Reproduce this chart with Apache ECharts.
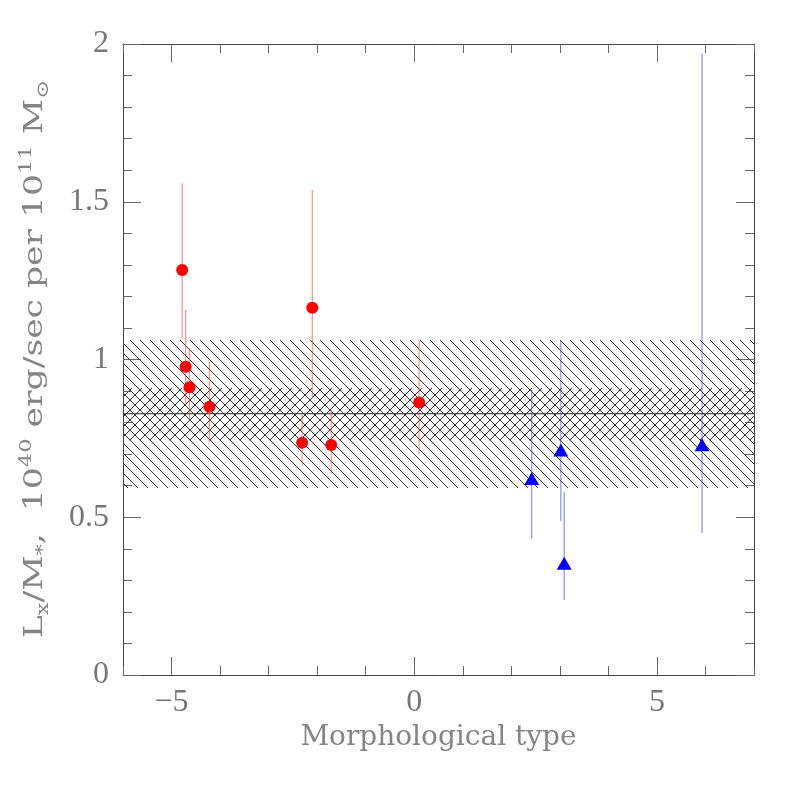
<!DOCTYPE html>
<html><head><meta charset="utf-8">
<script src="https://cdn.jsdelivr.net/npm/echarts@6/dist/echarts.min.js"></script>
<style>html,body{margin:0;padding:0;background:#fff}#c{width:797px;height:797px}</style>
</head><body><div id="c"></div>
<script>
// ---- data ----
const xTickCats = ['-6','-5','-4','-3','-2','-1','0','1','2','3','4','5','6','7'];
const xLabeled = ['-5','0','5'];
const yTickLabels = ['0','0.5','1','1.5','2'];
const xTitle = 'Morphological type';
const yTitle = '{n|L}{s|x}{n|/M}{s|*}{n|,  10}{p|40}{n| erg/sec per 10}{p|11}{n| M}{s|\u2299}';

const redType  = [-4.78, -4.71, -4.63, -4.22, -2.31, -2.10, -1.71, 0.10];
const redRatio = [1.284, 0.977, 0.912, 0.850, 0.736, 1.164, 0.729, 0.864];
const redLow   = [1.066, 0.855, 0.805, 0.738, 0.666, 0.881, 0.637, 0.700];
const redHigh  = [1.558, 1.157, 1.036, 0.995, 0.824, 1.537, 0.840, 1.065];

const blueType  = [2.42, 3.02, 3.09, 5.93];
const blueRatio = [0.623, 0.713, 0.354, 0.730];
const blueLow   = [0.433, 0.488, 0.238, 0.450];
const blueHigh  = [0.903, 1.062, 0.581, 1.971];

const bandOuter = [0.593, 1.062];
const bandInner = [0.744, 0.910];
const bandMean  = [0.828];

const X_MIN = -6, X_MAX = 7, Y_MIN = 0, Y_MAX = 2;

// ---- styles ----
function hatch(dir){
  const c = document.createElement('canvas'); c.width = 10; c.height = 10;
  const g = c.getContext('2d'); g.strokeStyle = '#333'; g.lineWidth = 1;
  g.beginPath();
  if (dir > 0) { g.moveTo(-1,-1); g.lineTo(11,11); }
  else { g.moveTo(-1,11); g.lineTo(11,-1); }
  g.stroke();
  return c;
}
const hatchBack = hatch(1), hatchFwd = hatch(-1);
const FONT = 'Liberation Serif';
const NFONT = 'DejaVu Serif';
const TXT = '#777';
const TTL = '#858585';

function bandSeries(band, img){
  return {
    type:'custom', xAxisIndex:0, yAxisIndex:0, silent:true, z:1, clip:true,
    data:[[band[0], band[1]]],
    renderItem:(p, api) => {
      const a = api.coord([X_MIN, api.value(1)]);
      const b = api.coord([X_MAX, api.value(0)]);
      return {type:'rect', shape:{x:a[0], y:a[1], width:b[0]-a[0], height:b[1]-a[1]},
              style:{fill:{image:img, repeat:'repeat'}, stroke:null}};
    }
  };
}
function errSeries(xs, lo, hi, color){
  return {
    type:'custom', xAxisIndex:0, yAxisIndex:0, silent:true, z:3,
    data: xs.map((x,i)=>[x, lo[i], hi[i]]),
    renderItem:(p, api) => {
      const a = api.coord([api.value(0), api.value(1)]);
      const b = api.coord([api.value(0), api.value(2)]);
      return {type:'line', shape:{x1:a[0], y1:a[1], x2:b[0], y2:b[1]},
              style:{stroke:color, lineWidth:1.3}};
    }
  };
}

const axisLineStyle = {show:true, onZero:false, lineStyle:{color:'#444', width:1}};
const hiddenLine = {show:false, onZero:false};
const shortTick = {show:true, inside:true, length:9, lineStyle:{color:'#666'}};
const longTickFn = (i, v) => xLabeled.includes(v);

const option = {
  animation:false,
  backgroundColor:'#fff',
  grid:{left:123, top:44, width:631, height:631, containLabel:false},
  graphic:[{
    type:'text', x:35, y:359, rotation:Math.PI/2, scaleX:1.33, silent:true,
    style:{text:yTitle, fontFamily:NFONT, fontSize:26, fill:TTL, align:'center', verticalAlign:'middle',
      rich:{
        n:{fontFamily:NFONT, fontSize:26, fill:TTL, lineHeight:34},
        s:{fontFamily:NFONT, fontSize:17, fill:TTL, lineHeight:15, verticalAlign:'bottom'},
        p:{fontFamily:NFONT, fontSize:17, fill:TTL, lineHeight:15, verticalAlign:'top'}
      }}
  }],
  xAxis:[
    {type:'value', min:X_MIN, max:X_MAX, interval:1, position:'bottom',
     axisLine:axisLineStyle, axisTick:shortTick, axisLabel:{show:false}, splitLine:{show:false}},
    {type:'value', min:X_MIN, max:X_MAX, interval:1, position:'top',
     axisLine:axisLineStyle, axisTick:shortTick, axisLabel:{show:false}, splitLine:{show:false}},
    {type:'category', data:xTickCats, boundaryGap:false, position:'bottom',
     axisLine:hiddenLine,
     axisTick:{show:true, inside:true, length:18, interval:longTickFn, lineStyle:{color:'#666'}},
     axisLabel:{interval:longTickFn, formatter:v=>v.replace('-','\u2212'), margin:12,
                fontFamily:FONT, fontSize:32, color:TXT},
     splitLine:{show:false},
     name:xTitle, nameLocation:'middle', nameGap:45,
     nameTextStyle:{fontFamily:NFONT, fontSize:28, color:TTL}},
    {type:'category', data:xTickCats, boundaryGap:false, position:'top',
     axisLine:hiddenLine,
     axisTick:{show:true, inside:true, length:18, interval:longTickFn, lineStyle:{color:'#666'}},
     axisLabel:{show:false}, splitLine:{show:false}}
  ],
  yAxis:[
    {type:'value', min:Y_MIN, max:Y_MAX, interval:0.5, position:'left',
     axisLine:axisLineStyle,
     axisTick:{show:true, inside:true, length:18, lineStyle:{color:'#666'}},
     minorTick:{show:true, splitNumber:5, length:9, lineStyle:{color:'#666'}},
     axisLabel:{formatter:v=>yTickLabels[Math.round(v/0.5)], margin:14,
                fontFamily:FONT, fontSize:32, color:TXT},
     splitLine:{show:false}},
    {type:'value', min:Y_MIN, max:Y_MAX, interval:0.5, position:'right',
     axisLine:axisLineStyle,
     axisTick:{show:true, inside:true, length:18, lineStyle:{color:'#666'}},
     minorTick:{show:true, splitNumber:5, length:9, lineStyle:{color:'#666'}},
     axisLabel:{show:false}, splitLine:{show:false}}
  ],
  series:[
    bandSeries(bandOuter, hatchBack),
    bandSeries(bandInner, hatchFwd),
    {type:'custom', xAxisIndex:0, yAxisIndex:0, silent:true, z:2,
     data:bandMean.map(v=>[v]),
     renderItem:(p, api) => {
       const a = api.coord([X_MIN, api.value(0)]), b = api.coord([X_MAX, api.value(0)]);
       return {type:'line', shape:{x1:a[0], y1:a[1], x2:b[0], y2:b[1]}, style:{stroke:'#222', lineWidth:1}};
     }, encode:{y:0}},
    errSeries(redType, redLow, redHigh, 'rgba(255,60,60,0.55)'),
    errSeries(blueType, blueLow, blueHigh, 'rgba(60,60,255,0.55)'),
    {type:'scatter', xAxisIndex:0, yAxisIndex:0, z:5, silent:true,
     data:redType.map((x,i)=>[x, redRatio[i]]),
     symbol:'circle', symbolSize:12, itemStyle:{color:'#ff0000', opacity:1}},
    {type:'scatter', xAxisIndex:0, yAxisIndex:0, z:5, silent:true,
     data:blueType.map((x,i)=>[x, blueRatio[i]]),
     symbol:'triangle', symbolSize:[15,13], itemStyle:{color:'#0000ff', opacity:1}}
  ]
};
echarts.init(document.getElementById('c'), null, {renderer:'canvas'}).setOption(option);
</script></body></html>
